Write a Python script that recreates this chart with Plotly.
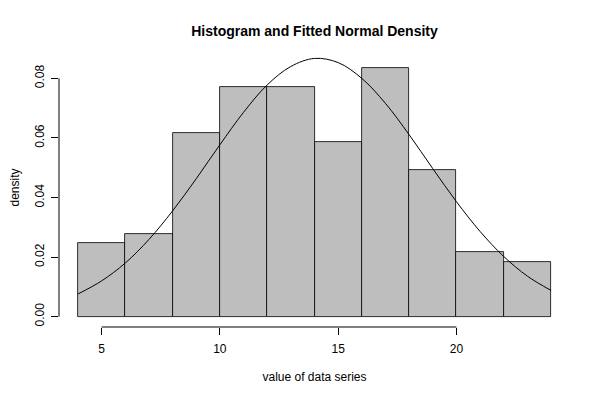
import plotly.graph_objects as go

# Histogram bins (left edges, right edges) and densities
bin_left = [4, 6, 8, 10, 12, 14, 16, 18, 20, 22]
bin_right = [6, 8, 10, 12, 14, 16, 18, 20, 22, 24]
density = [0.02469, 0.02778, 0.06173, 0.07716, 0.07716, 0.05864, 0.08333, 0.04938, 0.02160, 0.01852]

# Fitted normal density, read at integer x
curve_x = [4, 5, 6, 7, 8, 9, 10, 11, 12, 13, 14, 15, 16, 17, 18, 19, 20, 21, 22, 23, 24]
curve_y = [0.0076, 0.0120, 0.0180, 0.0259, 0.0355, 0.0463, 0.0577, 0.0686, 0.0778, 0.0840,
           0.0867, 0.0853, 0.0800, 0.0716, 0.0611, 0.0497, 0.0386, 0.0286, 0.0202, 0.0136, 0.0088]

x_ticks = [5, 10, 15, 20]
y_ticks = [0.00, 0.02, 0.04, 0.06, 0.08]
y_ticklabels = ["0.00", "0.02", "0.04", "0.06", "0.08"]

centers = [(a + b) / 2 for a, b in zip(bin_left, bin_right)]
widths = [b - a for a, b in zip(bin_left, bin_right)]

fig = go.Figure()
fig.add_trace(go.Bar(x=centers, y=density, width=widths,
                     marker=dict(color="#BEBEBE", line=dict(color="black", width=0.8)),
                     hoverinfo="skip"))
fig.add_trace(go.Scatter(x=curve_x, y=curve_y, mode="lines", line_shape="spline",
                         line=dict(color="black", width=1)))

# page body has an 8px default margin, so the figure is offset by 8px
W, H = 592, 392
font = "Liberation Sans, Arial, sans-serif"
fig.update_layout(
    width=W, height=H,
    margin=dict(l=51, r=30, t=40, b=73),
    paper_bgcolor="white", plot_bgcolor="white",
    showlegend=False,
    bargap=0,
    font=dict(family=font, size=12, color="black"),
    title=dict(text="<b>Histogram and Fitted Normal Density</b>", x=0.5, xref="paper",
               y=1 - 23 / H, yref="container", yanchor="middle", automargin=False,
               font=dict(size=14, family=font)),
    xaxis=dict(range=[3.2, 24.8], showgrid=False, zeroline=False, showline=False, automargin=False,
               tickvals=x_ticks, ticks="outside", ticklen=7, tickcolor="black", tickwidth=1,
               ticklabelstandoff=4,
               title=dict(text="value of data series", standoff=17, font=dict(size=12))),
    yaxis=dict(range=[-0.00347, 0.0902], showgrid=False, zeroline=False, showline=False, automargin=False,
               tickvals=y_ticks, ticktext=y_ticklabels, tickangle=-90,
               ticks="outside", ticklen=7, tickcolor="black", tickwidth=1,
               ticklabelstandoff=2,
               title=dict(text="density", standoff=16, font=dict(size=12))),
)
fig.add_shape(type="line", xref="x", yref="paper", x0=x_ticks[0], x1=x_ticks[-1], y0=0, y1=0,
              line=dict(color="black", width=1))
fig.add_shape(type="line", xref="paper", yref="y", x0=0, x1=0, y0=y_ticks[0], y1=y_ticks[-1],
              line=dict(color="black", width=1))

fig.write_html("out.html")
